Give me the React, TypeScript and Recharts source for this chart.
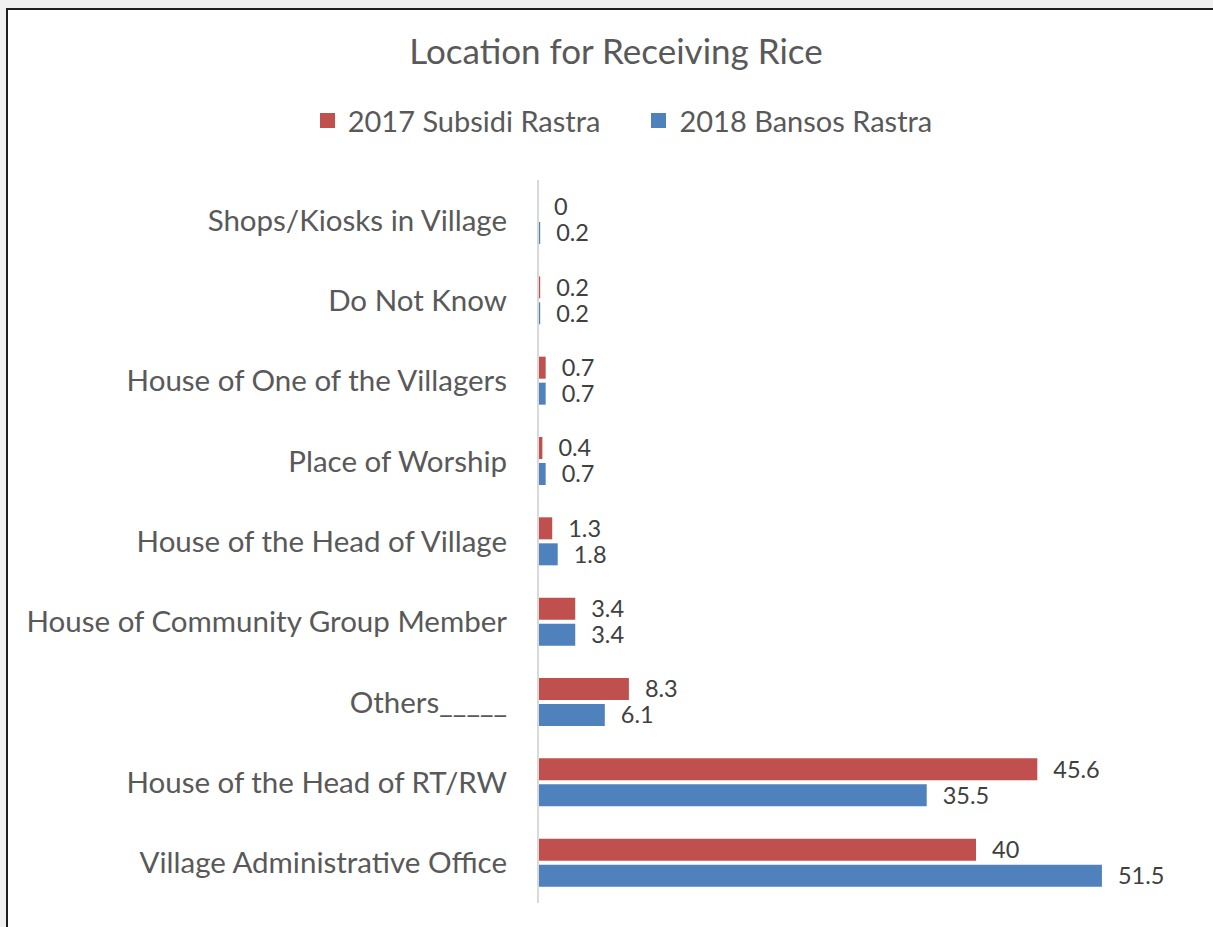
import React from "react";
import { Bar, BarChart, LabelList, XAxis, YAxis } from "recharts";

const categories = [
  "Shops/Kiosks in Village",
  "Do Not Know",
  "House of One of the Villagers",
  "Place of Worship",
  "House of the Head of Village",
  "House of Community Group Member",
  "Others_____",
  "House of the Head of RT/RW",
  "Village Administrative Office",
];
const subsidi2017 = [0, 0.2, 0.7, 0.4, 1.3, 3.4, 8.3, 45.6, 40];
const bansos2018 = [0.2, 0.2, 0.7, 0.7, 1.8, 3.4, 6.1, 35.5, 51.5];

const series = [
  { key: "s2017", name: "2017 Subsidi Rastra", color: "#C0504D" },
  { key: "s2018", name: "2018 Bansos Rastra", color: "#4F81BD" },
];

const data = categories.map((c, i) => ({
  name: c,
  s2017: subsidi2017[i],
  s2018: bansos2018[i],
}));

const FONT = "Lato, 'Open Sans', sans-serif";

// keep zero-valued bars alive (invisible) so their label still shows
const tinyForZero = (v: any) => (v === 0 ? 0.01 : 0);

export default function App() {
  return (
    <div
      style={{
        position: "absolute",
        left: 0,
        top: 0,
        width: 1213,
        height: 927,
        background: "#f0f0f0",
        overflow: "hidden",
        fontFamily: FONT,
      }}
    >
      <div
        style={{
          position: "absolute",
          left: 6,
          top: 8,
          width: 1240,
          height: 960,
          background: "#fff",
          border: "2px solid #1e1e1e",
        }}
      />
      <div
        style={{
          position: "absolute",
          left: 0,
          top: 29,
          width: 1232,
          textAlign: "center",
          fontSize: 35,
          color: "#595959",
        }}
      >
        Location for Receiving Rice
      </div>
      <div
        style={{
          position: "absolute",
          left: 10,
          top: 103,
          width: 1232,
          display: "flex",
          justifyContent: "center",
          gap: 51,
          fontSize: 29,
          color: "#595959",
        }}
      >
        {series.map((s) => (
          <div key={s.key} style={{ display: "flex", alignItems: "center" }}>
            <span
              style={{
                display: "inline-block",
                width: 15,
                height: 15,
                background: s.color,
                marginRight: 13,
              }}
            />
            {s.name}
          </div>
        ))}
      </div>
      <div style={{ position: "absolute", left: 0, top: 0 }}>
        <BarChart
          width={1213}
          height={927}
          data={data}
          layout="vertical"
          margin={{ top: 180, right: 18, bottom: 24, left: 0 }}
          barSize={22}
          barGap={4}
        >
          <XAxis type="number" domain={[0, 60]} hide />
          <YAxis
            type="category"
            dataKey="name"
            width={538}
            axisLine={{ stroke: "#d9d9d9", strokeWidth: 2 }}
            tickLine={false}
            tickSize={0}
            tickMargin={31}
            tick={{ fill: "#595959", fontSize: 29.5, fontFamily: FONT }}
            interval={0}
          />
          {series.map((s) => (
            <Bar
              key={s.key}
              dataKey={s.key}
              name={s.name}
              fill={s.color}
              minPointSize={tinyForZero}
              isAnimationActive={false}
            >
              <LabelList
                dataKey={s.key}
                position="right"
                offset={16}
                fill="#404040"
                fontSize={23.5}
                fontFamily={FONT}
              />
            </Bar>
          ))}
        </BarChart>
      </div>
    </div>
  );
}
